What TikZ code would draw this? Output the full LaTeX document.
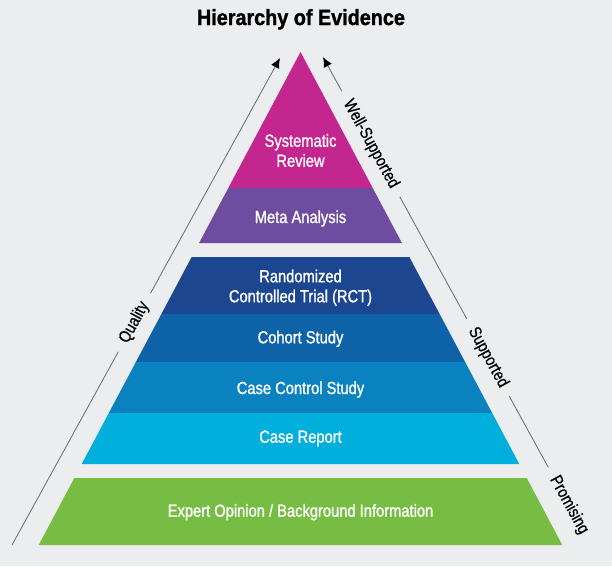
\documentclass[tikz,border=0pt]{standalone}
\usepackage{fontspec}
\setmainfont{Liberation Sans}
\newfontfamily\pyrfont[FakeStretch=0.84,FakeBold=1.1]{Liberation Sans}
\newfontfamily\sidefont[FakeStretch=0.84,FakeBold=0.6]{Liberation Sans}
\newfontfamily\titlefont[FakeStretch=0.9,FakeBold=1.2]{Liberation Sans}
\usetikzlibrary{arrows.meta}
\definecolor{bgc}{HTML}{ECEDEF}
\definecolor{sysc}{HTML}{C4268F}
\definecolor{metac}{HTML}{6E4C9F}
\definecolor{rctc}{HTML}{1C4690}
\definecolor{cohc}{HTML}{0D62A8}
\definecolor{ccc}{HTML}{0A82C0}
\definecolor{crc}{HTML}{00AFDB}
\definecolor{expc}{HTML}{77BD43}
\definecolor{linec}{HTML}{6A6A6A}
\newcommand\pyrband[3]{\fill[#3] ({300.5-0.531*(#1-52)},#1) -- ({300.5+0.531*(#1-52)},#1) -- ({300.5+0.531*(#2-52)},#2) -- ({300.5-0.531*(#2-52)},#2) -- cycle;}
\tikzset{
  pyrtext/.style={text=white, font=\pyrfont\fontsize{17.5}{20}\selectfont, inner sep=0pt, align=center},
  sidelabel/.style={text=black, font=\sidefont\fontsize{17}{20}\selectfont, inner xsep=11pt, inner ysep=2pt},
  guide/.style={draw=linec, line width=0.8pt},
  guidearrow/.style={guide, -{Latex[length=10pt,width=9pt,black]}}
}
\begin{document}
\begin{tikzpicture}[x=1pt,y=-1pt]
\fill[bgc] (0,0) rectangle (612,566);
\useasboundingbox (0,0) rectangle (612,566);
% pyramid bands
\pyrband{52}{188}{sysc}
\pyrband{188}{243}{metac}
\pyrband{257}{314}{rctc}
\pyrband{314}{362}{cohc}
\pyrband{362}{413}{ccc}
\pyrband{413}{464}{crc}
\pyrband{478}{545}{expc}
% title
\node[anchor=base, font=\titlefont\bfseries\fontsize{22}{24}\selectfont, inner sep=0pt] (title) at (301,25) {Hierarchy of Evidence};
% band labels
\node[pyrtext] (sr) at (300.5,150.5) {Systematic\\Review};
\node[pyrtext, anchor=base] (ma) at (300.5,223) {Meta Analysis};
\node[pyrtext] (rct) at (300.5,287.7) {Randomized\\Controlled Trial (RCT)};
\node[pyrtext, anchor=base] (coh) at (300.5,343.3) {Cohort Study};
\node[pyrtext, anchor=base] (cc) at (300.5,394) {Case Control Study};
\node[pyrtext, anchor=base] (cr) at (300.5,442.7) {Case Report};
\node[pyrtext, anchor=base] (exp) at (300.5,516.7) {Expert Opinion / Background Information};
% left guide
\coordinate (qbot) at (12,545);
\coordinate (qtop) at (280,58);
\node[sidelabel, rotate=61.2] (qual) at (134.4,322.5) {Quality};
\draw[guide] (qbot) -- (qual);
\draw[guidearrow] (qual) -- (qtop);
% right guide
\coordinate (rtop) at (323,57);
\node[sidelabel, rotate=-61.2] (ws) at (370.8,144) {Well-Supported};
\node[sidelabel, rotate=-61.2] (sup) at (488,357.5) {Supported};
\node[sidelabel, rotate=-61.2] (prom) at (569,505) {Promising};
\draw[guidearrow] (ws) -- (rtop);
\draw[guide] (ws) -- (sup);
\draw[guide] (sup) -- (prom);
\end{tikzpicture}
\end{document}
